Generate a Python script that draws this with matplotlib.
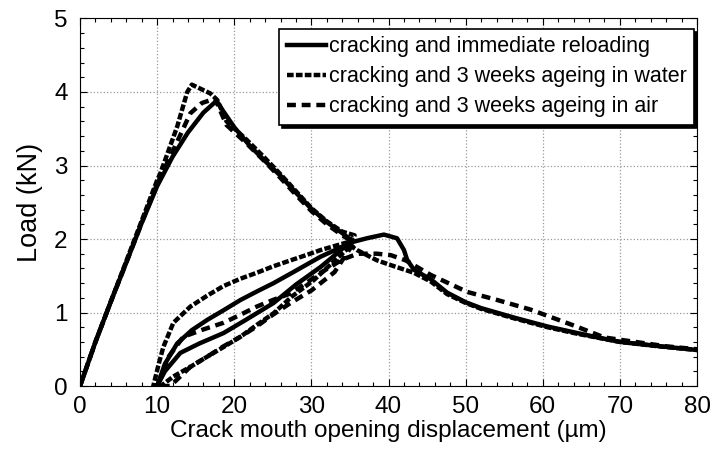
import matplotlib.pyplot as plt
from matplotlib.ticker import MultipleLocator

plt.rcParams['font.family'] = ['Liberation Sans', 'DejaVu Sans']

# cracking and immediate reloading (solid)
x_immediate = [0, 1, 2, 4, 6, 8, 10, 12, 14, 16, 17.7,
               18.5, 20, 22, 24, 26, 28, 30, 32, 34, 35.2,
               33.5, 31.2, 28, 25.1, 21.5, 18.6, 15.5, 13, 11, 10,
               11, 12.6, 14.5, 16.5, 18.6, 20.8, 23, 25.1, 28, 31.2, 33.5, 35,
               37.2, 39.4, 41.1, 42, 42.4, 43.3, 45.5, 47.6, 50, 52, 56.3,
               60.6, 64.5, 66.7, 70, 75.3, 80]
y_immediate = [0, 0.3, 0.6, 1.15, 1.68, 2.22, 2.72, 3.12, 3.45, 3.72, 3.88,
               3.75, 3.52, 3.27, 3.06, 2.86, 2.63, 2.41, 2.23, 2.08, 1.98,
               1.82, 1.62, 1.38, 1.13, 0.9, 0.72, 0.58, 0.45, 0.2, 0,
               0.3, 0.58, 0.76, 0.9, 1.03, 1.17, 1.29, 1.4, 1.57, 1.76, 1.87, 1.95,
               2.01, 2.06, 2.01, 1.85, 1.72, 1.58, 1.45, 1.27, 1.14, 1.06, 0.93,
               0.81, 0.72, 0.67, 0.6, 0.54, 0.49]

# cracking and 3 weeks ageing in water (dense dashes)
x_water = [0, 1, 2, 4, 6, 8, 10, 10.4, 12.6, 13.9, 14.5,
           16.9, 17.8, 19, 21.6, 23.8, 26, 28, 30, 32, 34, 35.6,
           34.5, 30.3, 27.5, 25.1, 22.9, 20.8, 18.6, 16.5, 14.3, 12.1, 10.5,
           9.5, 10.2, 10.8, 12.1, 14.3, 16.5, 18.6, 20.8, 22.9, 25.1, 27.3, 29.3, 31.2,
           34.5, 35.9, 38.5, 40.7, 43.3, 45.5, 47.6, 50, 52, 56.3,
           60.6, 64.5, 70, 75, 80]
y_water = [0, 0.3, 0.6, 1.15, 1.7, 2.25, 2.8, 2.89, 3.53, 4.0, 4.1,
           3.98, 3.89, 3.6, 3.35, 3.12, 2.88, 2.65, 2.42, 2.24, 2.1, 2.05,
           1.85, 1.44, 1.22, 0.99, 0.83, 0.67, 0.53, 0.4, 0.26, 0.13, 0,
           0, 0.3, 0.53, 0.86, 1.08, 1.23, 1.36, 1.46, 1.54, 1.63, 1.71, 1.78, 1.85,
           1.95, 1.85, 1.71, 1.63, 1.54, 1.42, 1.25, 1.13, 1.05, 0.92,
           0.8, 0.71, 0.6, 0.54, 0.49]

# cracking and 3 weeks ageing in air (long dashes)
x_air = [0, 1, 2, 4, 6, 8, 10, 12.1, 14.3, 15.8, 17.5,
         19, 21.6, 24, 26, 28, 30, 32, 34, 35.5,
         33, 30, 27.3, 25, 22.9, 20.8, 18.6, 16.5, 14.3, 13, 11.7,
         10, 11.5, 13.4, 16, 18.6, 20.8, 22.9, 25, 27.3, 29.3, 31.2, 34, 36,
         38.5, 40.3, 42.2, 45.5, 50.2, 54.1, 58.4, 64.1, 68, 72, 76, 80]
y_air = [0, 0.3, 0.6, 1.15, 1.68, 2.22, 2.75, 3.21, 3.71, 3.85, 3.91,
         3.55, 3.3, 3.05, 2.83, 2.6, 2.38, 2.2, 2.05, 1.95,
         1.55, 1.3, 1.13, 0.97, 0.81, 0.67, 0.54, 0.4, 0.26, 0.13, 0,
         0, 0.4, 0.67, 0.77, 0.86, 0.97, 1.08, 1.17, 1.26, 1.4, 1.54, 1.72, 1.8,
         1.8, 1.78, 1.71, 1.51, 1.28, 1.17, 1.04, 0.82, 0.66, 0.6, 0.54, 0.5]

labels = ['cracking and immediate reloading',
          'cracking and 3 weeks ageing in water',
          'cracking and 3 weeks ageing in air']

fig = plt.figure(figsize=(7.12, 4.5), dpi=100)
ax = fig.add_axes([0.1124, 0.1422, 0.8666, 0.8167])

lw = 3.2
ax.plot(x_immediate, y_immediate, color='black', lw=lw, label=labels[0])
ax.plot(x_water, y_water, color='black', lw=lw, dashes=(1.5, 0.5), label=labels[1])
ax.plot(x_air, y_air, color='black', lw=lw, dashes=(2.0, 1.3), label=labels[2])

ax.set_xlim(0, 80)
ax.set_ylim(0, 5)
ax.xaxis.set_major_locator(MultipleLocator(10))
ax.xaxis.set_minor_locator(MultipleLocator(2))
ax.yaxis.set_major_locator(MultipleLocator(1))
ax.yaxis.set_minor_locator(MultipleLocator(0.2))
ax.tick_params(which='both', direction='in', top=True, right=True, labelsize=17.5, width=0.8)
ax.tick_params(which='major', length=5)
ax.tick_params(which='minor', length=3)
ax.tick_params(axis='x', which='major', pad=7.5)
ax.tick_params(axis='y', which='major', pad=9)
ax.grid(True, which='major', linestyle=':', color='#999999', lw=0.9)
for s in ax.spines.values():
    s.set_linewidth(0.8)

ax.set_xlabel('Crack mouth opening displacement (µm)', fontsize=17.5, labelpad=1)
ax.set_ylabel('Load (kN)', fontsize=19.5, labelpad=8)

leg = ax.legend(loc='upper right', bbox_to_anchor=(0.995, 0.972), fontsize=15.5,
                frameon=True, fancybox=False, shadow={'color': 'black', 'alpha': 1},
                edgecolor='black', framealpha=1, handlelength=1.85, handletextpad=0.1,
                borderpad=0.35, labelspacing=0.42, borderaxespad=0)
leg.get_frame().set_linewidth(1.2)

fig.savefig('out.png', dpi=100)
